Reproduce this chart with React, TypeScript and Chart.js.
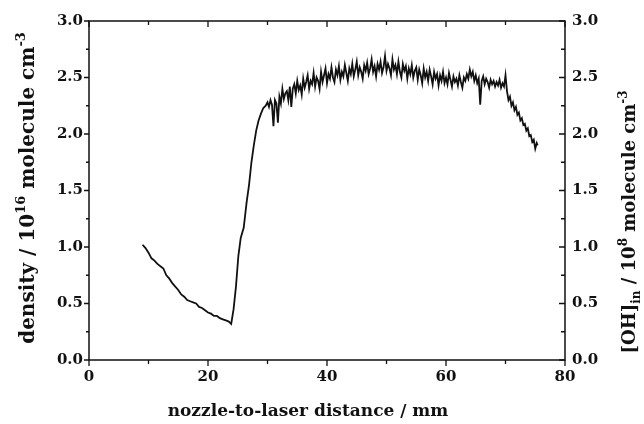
import { useEffect, useRef } from "react";
import { Chart, registerables } from "chart.js";

Chart.register(...registerables);

// nozzle-to-laser distance (mm)
const distanceMm = [
  9.0, 9.5, 10.0, 10.5, 11.0, 11.5, 12.0, 12.5, 13.0, 13.5, 14.0, 14.5, 15.0, 15.5, 16.0, 16.5,
  17.0, 17.5, 18.0, 18.5, 19.0, 19.5, 20.0, 20.5, 21.0, 21.5, 22.0, 22.5, 23.0, 23.5, 23.9,
  24.3, 24.7, 25.1, 25.5, 26.0, 26.5, 26.9, 27.3, 27.7, 28.1, 28.5, 28.9, 29.3, 29.7,
  30.0, 30.25, 30.5, 30.75, 31.0, 31.25, 31.5, 31.75, 32.0, 32.25, 32.5, 32.75, 33.0, 33.25, 33.5, 33.75,
  34.0, 34.25, 34.5, 34.75, 35.0, 35.25, 35.5, 35.75, 36.0, 36.25, 36.5, 36.75, 37.0, 37.25, 37.5, 37.75,
  38.0, 38.25, 38.5, 38.75, 39.0, 39.25, 39.5, 39.75, 40.0, 40.25, 40.5, 40.75, 41.0, 41.25, 41.5, 41.75,
  42.0, 42.25, 42.5, 42.75, 43.0, 43.25, 43.5, 43.75, 44.0, 44.25, 44.5, 44.75, 45.0, 45.25, 45.5, 45.75,
  46.0, 46.25, 46.5, 46.75, 47.0, 47.25, 47.5, 47.75, 48.0, 48.25, 48.5, 48.75, 49.0, 49.25, 49.5, 49.75,
  50.0, 50.25, 50.5, 50.75, 51.0, 51.25, 51.5, 51.75, 52.0, 52.25, 52.5, 52.75, 53.0, 53.25, 53.5, 53.75,
  54.0, 54.25, 54.5, 54.75, 55.0, 55.25, 55.5, 55.75, 56.0, 56.25, 56.5, 56.75, 57.0, 57.25, 57.5, 57.75,
  58.0, 58.25, 58.5, 58.75, 59.0, 59.25, 59.5, 59.75, 60.0, 60.25, 60.5, 60.75, 61.0, 61.25, 61.5, 61.75,
  62.0, 62.25, 62.5, 62.75, 63.0, 63.25, 63.5, 63.75, 64.0, 64.25, 64.5, 64.75, 65.0, 65.25, 65.5, 65.75,
  66.0, 66.25, 66.5, 66.75, 67.0, 67.25, 67.5, 67.75, 68.0, 68.25, 68.5, 68.75, 69.0, 69.25, 69.5, 69.75,
  70.0, 70.25, 70.5, 70.75, 71.0, 71.25, 71.5, 71.75, 72.0, 72.25, 72.5, 72.75, 73.0, 73.25, 73.5, 73.75,
  74.0, 74.25, 74.5, 74.75, 75.0, 75.25, 75.4,
];

// density / 1e16 molecule cm^-3
const densityValues = [
  1.02, 0.99, 0.95, 0.9, 0.88, 0.85, 0.83, 0.81, 0.75, 0.72, 0.68, 0.65, 0.62, 0.58, 0.56, 0.53,
  0.52, 0.51, 0.5, 0.47, 0.46, 0.44, 0.42, 0.41, 0.39, 0.39, 0.37, 0.36, 0.35, 0.34, 0.32,
  0.45, 0.65, 0.92, 1.08, 1.17, 1.4, 1.55, 1.75, 1.9, 2.03, 2.12, 2.18, 2.23, 2.25,
  2.28, 2.24, 2.3, 2.26, 2.07, 2.3, 2.27, 2.1,
  2.33, 2.27, 2.4, 2.31, 2.36, 2.38, 2.3, 2.42,
  2.24, 2.4, 2.44, 2.36, 2.47, 2.39, 2.43, 2.35,
  2.49, 2.41, 2.46, 2.52, 2.4, 2.47, 2.44, 2.54,
  2.42, 2.5, 2.47, 2.4, 2.55, 2.46, 2.52, 2.58,
  2.45, 2.53, 2.49, 2.59, 2.5, 2.46, 2.57, 2.52,
  2.6, 2.48, 2.55, 2.51, 2.61, 2.54, 2.47, 2.58,
  2.53, 2.62, 2.51, 2.57, 2.64, 2.52, 2.59, 2.55,
  2.49, 2.61, 2.56, 2.63, 2.53, 2.58, 2.66, 2.55,
  2.6, 2.51, 2.62, 2.57, 2.64, 2.54, 2.59, 2.69,
  2.56, 2.62, 2.58, 2.52, 2.66, 2.57, 2.61, 2.53,
  2.64, 2.55, 2.5, 2.62, 2.56, 2.6, 2.49, 2.58,
  2.53, 2.61, 2.5, 2.56, 2.59, 2.48, 2.57, 2.52,
  2.45, 2.58, 2.5, 2.55, 2.47, 2.57, 2.51, 2.44,
  2.55, 2.49, 2.53, 2.43, 2.52, 2.47, 2.55, 2.45,
  2.5, 2.44, 2.54, 2.48, 2.42, 2.51, 2.46, 2.49,
  2.43, 2.52, 2.46, 2.41, 2.5, 2.47, 2.53, 2.49,
  2.57, 2.51, 2.55, 2.47, 2.52, 2.45, 2.49, 2.26,
  2.47, 2.51, 2.44, 2.49, 2.46, 2.41, 2.48, 2.44,
  2.47, 2.42, 2.46, 2.43, 2.48, 2.41, 2.45, 2.42,
  2.52, 2.38, 2.3, 2.33, 2.25, 2.28, 2.21, 2.24, 2.17, 2.19, 2.12, 2.14, 2.08, 2.09, 2.03, 2.05,
  1.98, 1.99, 1.93, 1.95, 1.87, 1.92, 1.9,
];

const yMajorTicks = [0, 0.5, 1.0, 1.5, 2.0, 2.5, 3.0];
const yMinorTicks = [0.25, 0.75, 1.25, 1.75, 2.25, 2.75];
const xMajorTicks = [0, 20, 40, 60, 80];
const xMinorTicks = [10, 30, 50, 70];

type Part = { t: string; sup?: boolean; sub?: boolean };
const xTitle: Part[] = [{ t: "nozzle-to-laser distance / mm" }];
const yTitle: Part[] = [
  { t: "density / 10" },
  { t: "16", sup: true },
  { t: " molecule cm" },
  { t: "-3", sup: true },
];
const y2Title: Part[] = [
  { t: "[OH]" },
  { t: "in", sub: true },
  { t: " / 10" },
  { t: "8", sup: true },
  { t: " molecule cm" },
  { t: "-3", sup: true },
];

const FONT = '"DejaVu Serif", "Liberation Serif", serif';

function drawRich(
  ctx: CanvasRenderingContext2D,
  parts: Part[],
  cx: number,
  baseline: number,
  angle: number,
  size: number
) {
  ctx.save();
  ctx.translate(cx, baseline);
  ctx.rotate(angle);
  ctx.fillStyle = "#111";
  ctx.textBaseline = "alphabetic";
  ctx.textAlign = "left";
  const small = Math.round(size * 0.66);
  const widths = parts.map((p) => {
    ctx.font = `bold ${p.sup || p.sub ? small : size}px ${FONT}`;
    return ctx.measureText(p.t).width;
  });
  const total = widths.reduce((a, b) => a + b, 0);
  let x = -total / 2;
  parts.forEach((p, i) => {
    ctx.font = `bold ${p.sup || p.sub ? small : size}px ${FONT}`;
    const dy = p.sup ? -size * 0.45 : p.sub ? size * 0.28 : 0;
    ctx.fillText(p.t, x, dy);
    x += widths[i];
  });
  ctx.restore();
}

const framePlugin = {
  id: "frame",
  afterDraw(chart: any) {
    const { ctx, chartArea: a, scales } = chart;
    const xs = scales.x;
    const ys = scales.y;
    ctx.save();
    ctx.strokeStyle = "#111";
    ctx.lineWidth = 1.5;
    ctx.beginPath();
    ctx.rect(a.left, a.top, a.right - a.left, a.bottom - a.top);
    ctx.stroke();
    ctx.lineWidth = 1.3;
    ctx.beginPath();
    yMajorTicks.forEach((v) => {
      const p = ys.getPixelForValue(v);
      ctx.moveTo(a.left - 5, p);
      ctx.lineTo(a.left, p);
      ctx.moveTo(a.right - 6, p);
      ctx.lineTo(a.right, p);
    });
    yMinorTicks.forEach((v) => {
      const p = ys.getPixelForValue(v);
      ctx.moveTo(a.left - 3, p);
      ctx.lineTo(a.left, p);
      ctx.moveTo(a.right - 4, p);
      ctx.lineTo(a.right, p);
    });
    xMajorTicks.forEach((v) => {
      const p = xs.getPixelForValue(v);
      ctx.moveTo(p, a.bottom);
      ctx.lineTo(p, a.bottom + 6);
      ctx.moveTo(p, a.top);
      ctx.lineTo(p, a.top + 6);
    });
    xMinorTicks.forEach((v) => {
      const p = xs.getPixelForValue(v);
      ctx.moveTo(p, a.bottom);
      ctx.lineTo(p, a.bottom + 4);
      ctx.moveTo(p, a.top);
      ctx.lineTo(p, a.top + 4);
    });
    ctx.stroke();
    ctx.restore();

    drawRich(ctx, xTitle, 308, 416, 0, 17);
    drawRich(ctx, yTitle, 34, 188, -Math.PI / 2, 20);
    drawRich(ctx, y2Title, 635, 222, -Math.PI / 2, 18);
  },
};

export default function App() {
  const canvasRef = useRef<HTMLCanvasElement | null>(null);

  useEffect(() => {
    const canvas = canvasRef.current;
    if (!canvas) return;
    const tickFont = { family: FONT, size: 15, weight: "bold" as const };
    const chart = new Chart(canvas, {
      type: "line",
      data: {
        datasets: [
          {
            data: distanceMm.map((d, i) => ({ x: d, y: densityValues[i] })),
            borderColor: "#111",
            borderWidth: 1.8,
            pointRadius: 0,
            tension: 0,
            fill: false,
          },
        ],
      },
      options: {
        responsive: false,
        animation: false,
        events: [],
        layout: { padding: { top: 21, left: 0, right: 0, bottom: 0 } },
        plugins: { legend: { display: false }, tooltip: { enabled: false } },
        scales: {
          x: {
            type: "linear",
            min: 0,
            max: 80,
            position: "bottom",
            grid: { display: false, drawTicks: false },
            border: { display: false },
            ticks: {
              stepSize: 20,
              padding: 8,
              color: "#111",
              font: tickFont,
              maxRotation: 0,
              callback: (v: any) => String(v),
            },
            afterFit: (s: any) => {
              s.height = 64;
            },
          },
          y: {
            type: "linear",
            min: 0,
            max: 3,
            position: "left",
            grid: { display: false, drawTicks: false },
            border: { display: false },
            ticks: {
              stepSize: 0.5,
              padding: 6,
              color: "#111",
              font: tickFont,
              callback: (v: any) => Number(v).toFixed(1),
            },
            afterFit: (s: any) => {
              s.width = 89;
            },
          },
          y2: {
            type: "linear",
            min: 0,
            max: 3,
            position: "right",
            grid: { display: false, drawTicks: false },
            border: { display: false },
            ticks: {
              stepSize: 0.5,
              padding: 7,
              color: "#111",
              font: tickFont,
              callback: (v: any) => Number(v).toFixed(1),
            },
            afterFit: (s: any) => {
              s.width = 79;
            },
          },
        },
      },
      plugins: [framePlugin],
    });
    return () => chart.destroy();
  }, []);

  return (
    <div style={{ position: "fixed", left: 0, top: 0, width: 644, height: 424, background: "#fff" }}>
      <canvas ref={canvasRef} width={644} height={424} />
    </div>
  );
}
